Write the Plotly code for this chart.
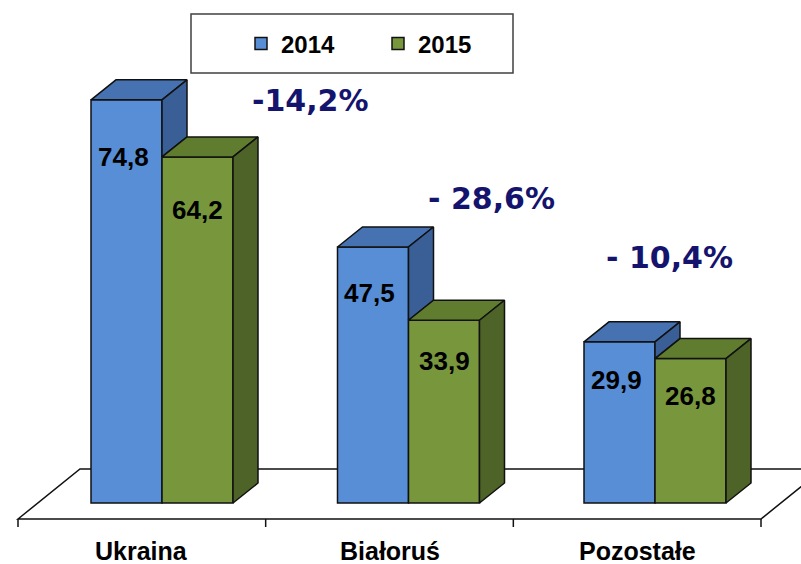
import plotly.graph_objects as go

# ---------------- data ----------------
categories = ["Ukraina", "Białoruś", "Pozostałe"]
years = ["2014", "2015"]
values_2014 = [74.8, 47.5, 29.9]
values_2015 = [64.2, 33.9, 26.8]
value_labels_2014 = ["74,8", "47,5", "29,9"]
value_labels_2015 = ["64,2", "33,9", "26,8"]
change_labels = ["-14,2%", "- 28,6%", "- 10,4%"]

# ---------------- geometry (pixel calibration of the axes) ----------------
W, H = 801, 564
PX_PER_CAT = 246.5      # horizontal pixels per category
X0_PX = 162             # pixel x of category 0 (boundary between the two bars)
Y0_PX = 503             # pixel y of value 0 (front face bottom)
PX_PER_UNIT = 5.39      # vertical pixels per value unit


def px_to_x(px):
    return (px - X0_PX) / PX_PER_CAT


def py_to_y(py):
    return (Y0_PX - py) / PX_PER_UNIT


BAR_W = 71 / PX_PER_CAT
DX = 25 / PX_PER_CAT          # depth offset (x)
DY = 20 / PX_PER_UNIT         # depth offset (y)
LABEL_SHIFT_BLUE = -3.5 / PX_PER_CAT

BLUE_FRONT, BLUE_TOP, BLUE_SIDE = "#578ED6", "#4672B2", "#3A5F97"
GREEN_FRONT, GREEN_TOP, GREEN_SIDE = "#78973C", "#607C2F", "#4E6328"
EDGE = "#111111"
FONT = "Liberation Sans, Arial, sans-serif"

fig = go.Figure()

xs = list(range(len(categories)))

# front faces (real bars)
fig.add_trace(go.Bar(
    x=xs, y=values_2014, name=years[0], offset=-BAR_W, width=BAR_W,
    marker=dict(color=BLUE_FRONT, line=dict(color=EDGE, width=1.5)),
    hoverinfo="skip"))
fig.add_trace(go.Bar(
    x=xs, y=values_2015, name=years[1], offset=0, width=BAR_W,
    marker=dict(color=GREEN_FRONT, line=dict(color=EDGE, width=1.5)),
    hoverinfo="skip"))


def face(px, py, color):
    fig.add_trace(go.Scatter(
        x=px + [px[0]], y=py + [py[0]], mode="lines", fill="toself",
        fillcolor=color, line=dict(color=EDGE, width=1.5),
        showlegend=False, hoverinfo="skip"))


for i, (b, g) in enumerate(zip(values_2014, values_2015)):
    xl = i - BAR_W
    # blue top
    face([xl, xl + DX, i + DX, i], [b, b + DY, b + DY, b], BLUE_TOP)
    # blue side (visible part above the green bar)
    lo = max(0, g)
    if b > lo:
        face([i, i, i + DX, i + DX], [lo, b, b + DY, lo + DY], BLUE_SIDE)
    xr = i + BAR_W
    # green top
    face([i, i + DX, xr + DX, xr], [g, g + DY, g + DY, g], GREEN_TOP)
    # green side
    face([xr, xr, xr + DX, xr + DX], [0, g, g + DY, DY], GREEN_SIDE)

# ---------------- floor ----------------
f_y = py_to_y(519)
b_y = py_to_y(469)
fl_x, bl_x = px_to_x(18), px_to_x(80)
fr_x, br_x = px_to_x(761), px_to_x(823)
shapes = [dict(
    type="path", xref="x", yref="y", layer="below",
    path=f"M{fl_x},{f_y} L{bl_x},{b_y} L{br_x},{b_y} L{fr_x},{f_y} Z",
    fillcolor="white", line=dict(color=EDGE, width=1.5))]
step = (fr_x - fl_x) / len(categories)
tick_len = 8 / PX_PER_UNIT
for k in range(len(categories) + 1):
    tx = fl_x + k * step
    shapes.append(dict(type="line", xref="x", yref="y", layer="below",
                       x0=tx, x1=tx, y0=f_y, y1=f_y - tick_len,
                       line=dict(color=EDGE, width=1.5)))

# legend frame
shapes.append(dict(type="rect", xref="paper", yref="paper",
                   x0=191 / W, x1=513 / W, y0=1 - 73 / H, y1=1 - 14 / H,
                   line=dict(color="#404040", width=1.5), fillcolor="white",
                   layer="below"))

annotations = []
# category labels
for k, name in enumerate(categories):
    annotations.append(dict(
        x=fl_x + (k + 0.5) * step, y=py_to_y(551), xref="x", yref="y",
        xanchor="center", yanchor="middle",
        text=name, showarrow=False,
        font=dict(family=FONT, size=25, color="black", weight="bold")))

# value labels on the front faces
for i, (b, g) in enumerate(zip(values_2014, values_2015)):
    for v, lab, cx in ((b, value_labels_2014[i], i - BAR_W / 2 + LABEL_SHIFT_BLUE),
                       (g, value_labels_2015[i], i + BAR_W / 2)):
        annotations.append(dict(
            x=cx, y=v - (26 + 0.42 * v) / PX_PER_UNIT, xref="x", yref="y",
            xanchor="center", yanchor="middle",
            text=lab, showarrow=False,
            font=dict(family=FONT, size=26, color="black", weight="bold")))

# change labels
change_pos = [(310, 100), (492, 198), (669, 257)]
for lab, (cx, cy) in zip(change_labels, change_pos):
    annotations.append(dict(
        x=cx / W, y=1 - cy / H, xref="paper", yref="paper",
        xanchor="center", yanchor="middle",
        text=lab, showarrow=False,
        font=dict(family="DejaVu Sans, Verdana, sans-serif", size=30,
                  color="#14146E", weight="bold")))

fig.update_layout(
    width=W, height=H,
    margin=dict(l=0, r=0, t=0, b=0),
    paper_bgcolor="white", plot_bgcolor="white",
    barmode="overlay",
    xaxis=dict(range=[px_to_x(0), px_to_x(W)], visible=False, fixedrange=True),
    yaxis=dict(range=[py_to_y(H), py_to_y(0)], visible=False, fixedrange=True),
    showlegend=True,
    hovermode=False,
    legend=dict(orientation="h", x=241 / W, y=1 - 44 / H,
                xanchor="left", yanchor="middle",
                entrywidth=92, entrywidthmode="pixels",
                bgcolor="rgba(0,0,0,0)", borderwidth=0,
                font=dict(family=FONT, size=24, color="black", weight="bold")),
    shapes=shapes,
    annotations=annotations,
)

fig.write_html("out.html",
               config={"displayModeBar": False},
               post_script="document.body.style.margin='0px';"
                           "document.body.style.overflow='hidden';")
